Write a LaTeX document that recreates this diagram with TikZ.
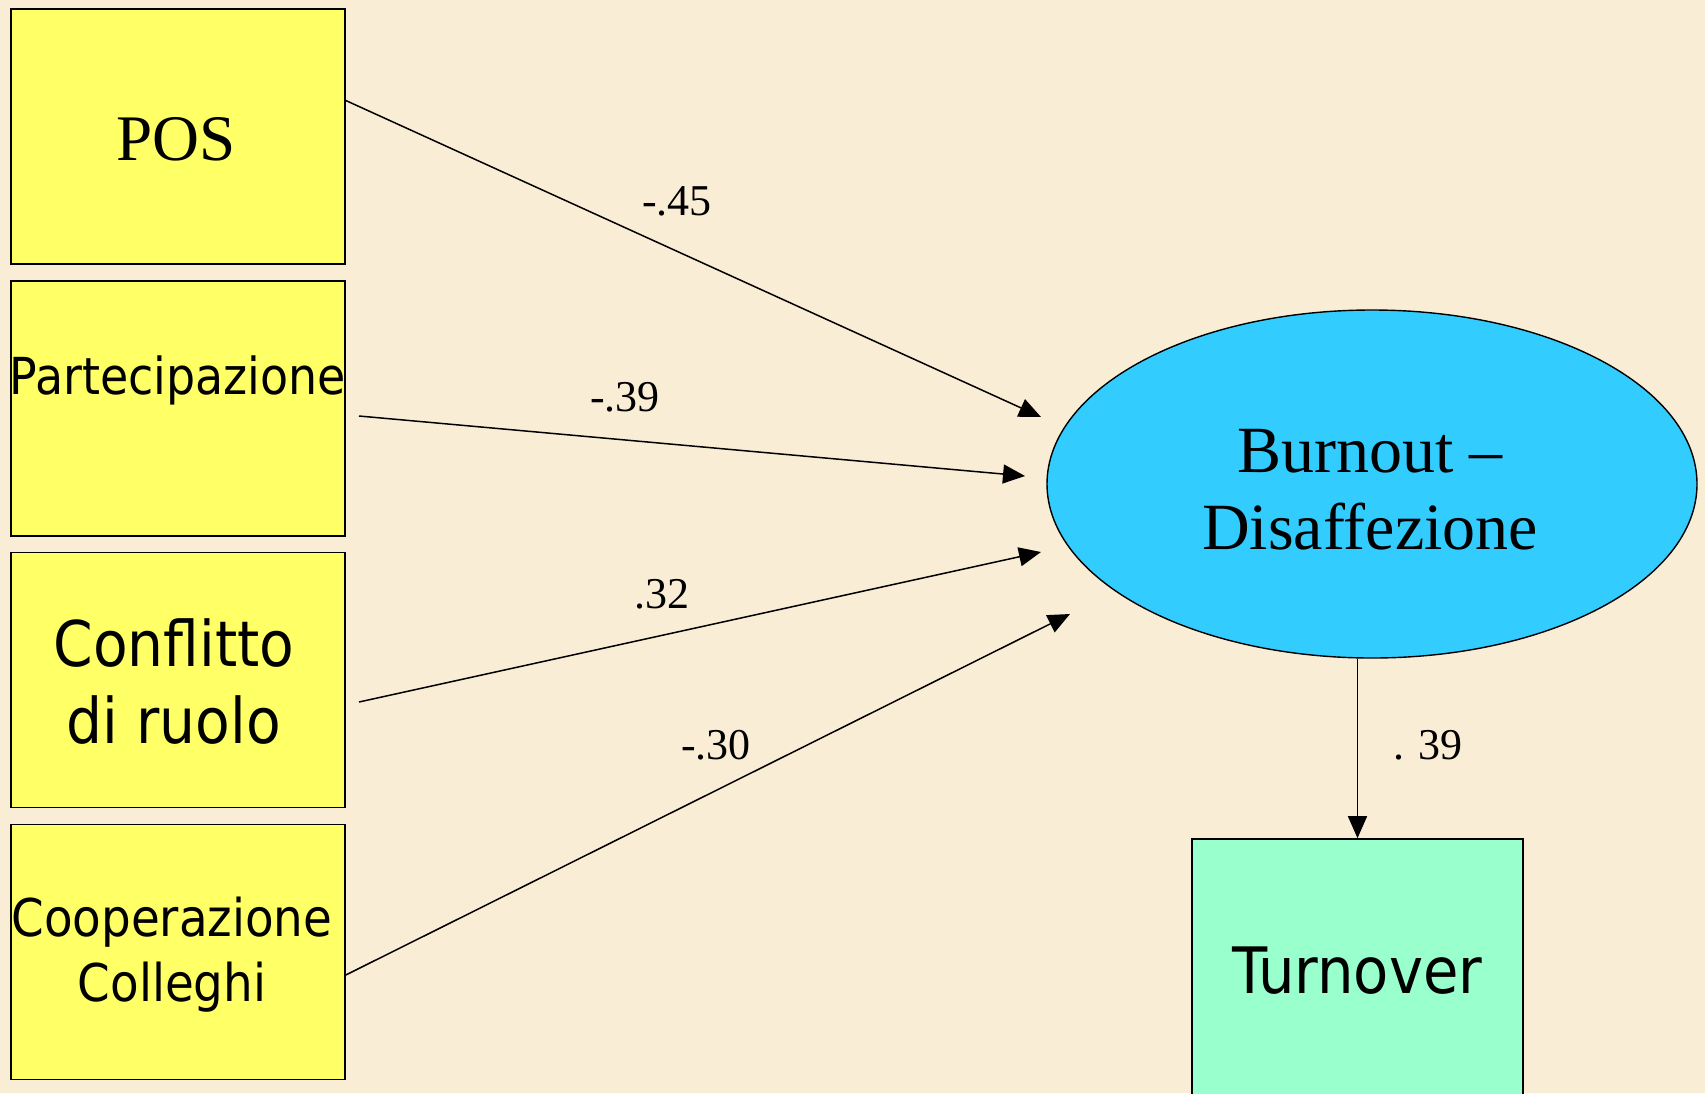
\documentclass[tikz,border=0pt]{standalone}
\usepackage{fontspec}
\setmainfont{Liberation Serif}
\IfFontExistsTF{DejaVu Sans Condensed}
  {\newfontfamily\sansf{DejaVu Sans Condensed}}
  {\newfontfamily\sansf[FakeStretch=0.9]{DejaVu Sans}}
\usetikzlibrary{shapes.geometric,arrows.meta,calc}
\definecolor{bgc}{RGB}{250,237,213}
\definecolor{yel}{RGB}{255,255,102}
\definecolor{cyanb}{RGB}{51,204,255}
\definecolor{mint}{RGB}{153,255,204}
\begin{document}
\begin{tikzpicture}[x=1pt,y=-1pt,
  varbox/.style={draw=black,line width=1.6pt,fill=yel,minimum width=334pt,minimum height=255pt,inner sep=0pt,anchor=center},
  arr/.style={line width=1.5pt,-{Triangle[length=22pt,width=19pt]}},
  coef/.style={font=\fontsize{44}{50}\selectfont,inner sep=0pt}
]
\clip (0,0) rectangle (1705,1093);
\fill[bgc] (0,0) rectangle (1705,1093);

% left boxes
\node[varbox] (pos) at (178,136.5) {};
\node[font=\fontsize{65}{77}\selectfont,inner sep=0pt] (postxt) at (176,139) {POS};

\node[varbox] (par) at (178,408.5) {};
\node[font=\sansf\fontsize{51}{60}\selectfont,inner sep=0pt] (partxt) at (178,380) {Partecipazione};

\node[varbox] (con) at (178,680) {};
\node[font=\sansf\fontsize{63}{77}\selectfont,align=center,inner sep=0pt] (contxt) at (174,682) {Conflitto\\di ruolo};

\node[varbox] (coo) at (178,952) {};
\node[font=\sansf\fontsize{52}{65}\selectfont,align=center,inner sep=0pt] (cootxt) at (172,955) {Cooperazione\\Colleghi};

% latent
\node[ellipse,draw=black,line width=1.4pt,fill=cyanb,minimum width=650pt,minimum height=348pt,inner sep=0pt,
  font=\fontsize{66}{77}\selectfont,align=center] (burn) at (1372,484) {};
\node[font=\fontsize{66}{77}\selectfont,align=center,inner sep=0pt] (burntxt) at (1370,490) {Burnout --\\Disaffezione};

% turnover
\node[draw=black,line width=1.6pt,fill=mint,minimum width=331pt,minimum height=264pt,inner sep=0pt,
  font=\sansf\fontsize{64}{77}\selectfont] (turn) at (1357.5,971) {Turnover};

% arrow tips
\coordinate (t1) at (1041,417);
\coordinate (t2) at (1025,476);
\coordinate (t3) at (1041,552);
\coordinate (t4) at (1070,614);
\coordinate (s2) at (359,416);
\coordinate (s3) at (359,702);

\draw[arr] ($(pos.east)+(0,-36)$) -- (t1);
\draw[arr] (s2) -- (t2);
\draw[arr] (s3) -- (t3);
\draw[arr] ($(coo.east)+(0,23)$) -- (t4);
\draw[arr] (turn.north |- burn.south) -- (turn.north);

% coefficients
\node[coef] (c1) at (677,201) {-.45};
\node[coef] (c2) at (625,397) {-.39};
\node[coef] (c3) at (662,594) {.32};
\node[coef] (c4) at (716,745) {-.30};
\node[coef] (c5) at (1428,745) {. 39};
\end{tikzpicture}
\end{document}
